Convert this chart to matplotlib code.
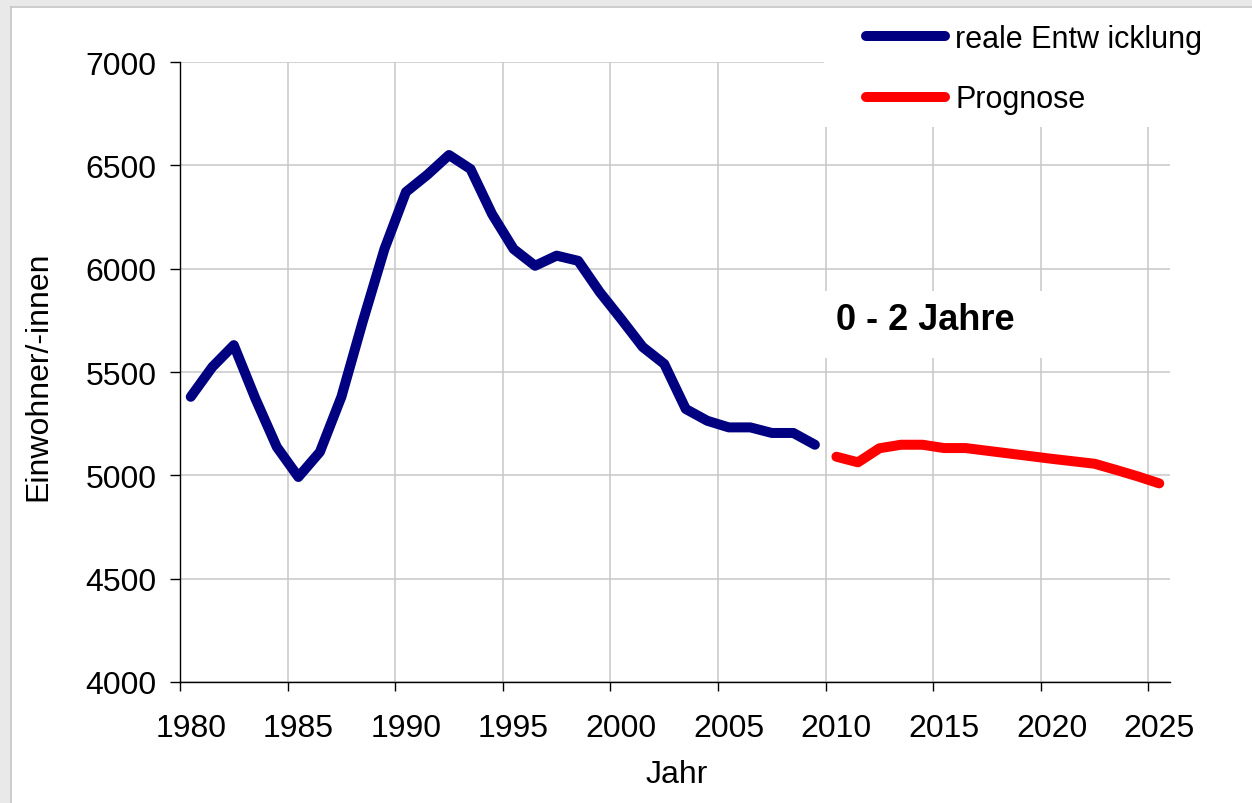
import matplotlib
matplotlib.use("Agg")
import matplotlib.pyplot as plt
from matplotlib.patches import Rectangle
from matplotlib.ticker import MultipleLocator, FixedLocator, FixedFormatter

plt.rcParams['font.family'] = ['Liberation Sans', 'DejaVu Sans']

# Einwohner 0-2 Jahre, reale Entwicklung 1980-2009
years_real = list(range(1980, 2010))
values_real = [5380, 5524, 5630, 5372, 5137, 4992, 5113, 5380, 5747, 6095,
               6371, 6455, 6550, 6482, 6264, 6095, 6014, 6063, 6038, 5887,
               5756, 5621, 5539, 5321, 5264, 5232, 5232, 5205, 5205, 5148]

# Prognose 2010-2025
years_prog = list(range(2010, 2026))
values_prog = [5090, 5063, 5131, 5148, 5148, 5132, 5132, 5119, 5106, 5093,
               5080, 5068, 5056, 5026, 4995, 4961]

label_years = list(range(1980, 2026, 5))

W, H = 1252, 804
fig = plt.figure(figsize=(W / 100, H / 100), dpi=100)

# grey window frame at top / left
fig.patches.append(Rectangle((0, 0), 10 / W, 1, transform=fig.transFigure,
                             facecolor='#e9e9e9', edgecolor='none', zorder=0))
fig.patches.append(Rectangle((0, 1 - 7 / H), 1, 7 / H, transform=fig.transFigure,
                             facecolor='#e9e9e9', edgecolor='none', zorder=0))
fig.lines.append(plt.Line2D([10.5 / W, 10.5 / W], [0, 1 - 7.5 / H], transform=fig.transFigure,
                            color='#c4c4c4', lw=1.2))
fig.lines.append(plt.Line2D([10.5 / W, 1], [1 - 7.5 / H, 1 - 7.5 / H], transform=fig.transFigure,
                            color='#c4c4c4', lw=1.2))

ax = fig.add_axes([180 / W, (H - 683) / H, 990 / W, 620 / H])

# categories sit in the middle of their year slot (Excel style)
ax.plot([y + 0.5 for y in years_real], values_real, color='#000080', lw=7.2,
        solid_capstyle='round', solid_joinstyle='round', label='reale Entw icklung', zorder=3)
ax.plot([y + 0.5 for y in years_prog], values_prog, color='#ff0000', lw=7.2,
        solid_capstyle='round', solid_joinstyle='round', label='Prognose', zorder=3)

ax.set_xlim(1980, 2026)
ax.set_ylim(4000, 7000)
ax.yaxis.set_major_locator(MultipleLocator(500))
ax.xaxis.set_major_locator(FixedLocator(label_years))
ax.xaxis.set_major_formatter(FixedFormatter([''] * len(label_years)))
ax.xaxis.set_minor_locator(FixedLocator([y + 0.5 for y in label_years]))
ax.xaxis.set_minor_formatter(FixedFormatter([str(y) for y in label_years]))

ax.grid(True, which='major', color='#c8c8c8', lw=1.1)
ax.set_axisbelow(True)
for s in ['top', 'right']:
    ax.spines[s].set_visible(False)
for s in ['left', 'bottom']:
    ax.spines[s].set_color('black')
    ax.spines[s].set_linewidth(1.0)

ax.tick_params(axis='x', which='major', direction='out', length=6.5, width=1, color='black')
ax.tick_params(axis='x', which='minor', length=0, pad=22, labelsize=23)
ax.tick_params(axis='y', direction='out', length=7, width=1, pad=10, labelsize=23)

fig.text(677 / W, 1 - 775 / H, 'Jahr', ha='center', va='center', fontsize=23)
fig.text(38 / W, 1 - 376 / H, 'Einwohner/-innen', ha='center', va='center',
         rotation=90, fontsize=23)

# white boxes behind title and legend (hide the gridlines there)
ax.add_patch(Rectangle((822 / W, 1 - 359 / H), 224 / W, 67 / H, transform=fig.transFigure,
                       facecolor='white', edgecolor='none', zorder=4, clip_on=False))
ax.add_patch(Rectangle((824 / W, 1 - 128 / H), (W - 824) / W, 120 / H, transform=fig.transFigure,
                       facecolor='white', edgecolor='none', zorder=4, clip_on=False))

ax.text(925 / W, 1 - 321 / H, '0 - 2 Jahre', transform=fig.transFigure, ha='center',
        va='center', fontsize=26, fontweight='bold', zorder=5)

handles, labels = ax.get_legend_handles_labels()
leg = fig.legend(handles, labels, loc='upper left', bbox_to_anchor=(849 / W, 1 - 8 / H),
                 fontsize=22, frameon=False,
                 handlelength=2.6, handletextpad=0.33, labelspacing=1.0,
                 borderpad=0.55, borderaxespad=0)
leg.set_zorder(6)
for line in leg.get_lines():
    line.set_linewidth(7.2)
    line.set_solid_capstyle('round')

fig.savefig('out.png', dpi=100)
